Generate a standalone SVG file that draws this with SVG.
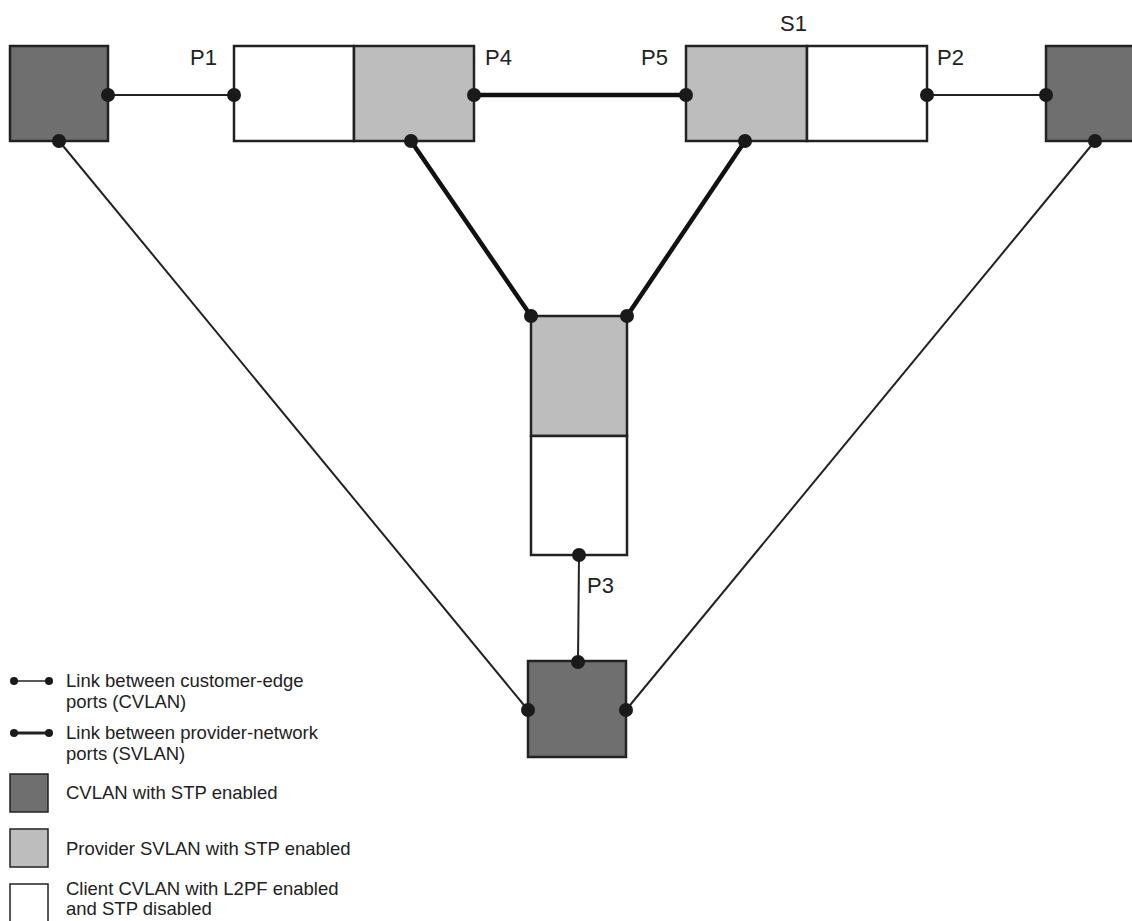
<svg xmlns="http://www.w3.org/2000/svg" width="1132" height="921" viewBox="0 0 1132 921">
<style>
.dark{fill:#6f6f6f;stroke:#222;stroke-width:2.5}
.light{fill:#bdbdbd;stroke:#222;stroke-width:2.5}
.white{fill:#fff;stroke:#222;stroke-width:2.5}
.thin{stroke:#222;stroke-width:2;fill:none}
.thick{stroke:#111;stroke-width:4.5;fill:none}
.dot{fill:#1a1a1a}
.lbl{font-family:"Liberation Sans",Arial,sans-serif;font-size:22px;fill:#222}
.leg{font-family:"Liberation Sans",Arial,sans-serif;font-size:18.5px;fill:#222}
</style>
<rect width="1132" height="921" fill="#fff"/>
<g id="connectors">
<line class="thin" x1="108" y1="95" x2="234" y2="95"/>
<line class="thick" x1="474" y1="95" x2="686" y2="95"/>
<line class="thin" x1="927" y1="95" x2="1046" y2="95"/>
<line class="thick" x1="411" y1="141" x2="531" y2="316"/>
<line class="thick" x1="745" y1="141" x2="627" y2="316"/>
<line class="thin" x1="59" y1="141" x2="528" y2="710"/>
<line class="thin" x1="1095" y1="141" x2="626" y2="710"/>
<line class="thin" x1="579" y1="555" x2="578" y2="662"/>
</g>
<g id="ce-left">
<rect class="dark" x="10" y="46" width="98" height="95"/>
<circle class="dot" cx="108" cy="95" r="7"/>
<circle class="dot" cx="59" cy="141" r="7"/>
</g>
<g id="ce-right">
<rect class="dark" x="1046" y="46" width="96" height="95"/>
<circle class="dot" cx="1046" cy="95" r="7"/>
<circle class="dot" cx="1095" cy="141" r="7"/>
</g>
<g id="switch-left">
<rect class="white" x="234" y="46" width="120" height="95"/>
<rect class="light" x="354" y="46" width="120" height="95"/>
<circle class="dot" cx="234" cy="95" r="7"/>
<circle class="dot" cx="474" cy="95" r="7"/>
<circle class="dot" cx="411" cy="141" r="7"/>
<text class="lbl" x="190" y="65">P1</text>
<text class="lbl" x="485" y="65">P4</text>
</g>
<g id="switch-s1">
<rect class="light" x="686" y="46" width="121" height="95"/>
<rect class="white" x="807" y="46" width="120" height="95"/>
<circle class="dot" cx="686" cy="95" r="7"/>
<circle class="dot" cx="927" cy="95" r="7"/>
<circle class="dot" cx="745" cy="141" r="7"/>
<text class="lbl" x="641" y="65">P5</text>
<text class="lbl" x="780" y="31">S1</text>
<text class="lbl" x="937" y="65">P2</text>
</g>
<g id="switch-center">
<rect class="light" x="531" y="316" width="96" height="120"/>
<rect class="white" x="531" y="436" width="96" height="119"/>
<circle class="dot" cx="531" cy="316" r="7"/>
<circle class="dot" cx="627" cy="316" r="7"/>
<circle class="dot" cx="579" cy="555" r="7"/>
<text class="lbl" x="587" y="593">P3</text>
</g>
<g id="ce-bottom">
<rect class="dark" x="528" y="661" width="98" height="96"/>
<circle class="dot" cx="578" cy="662" r="7"/>
<circle class="dot" cx="528" cy="710" r="7"/>
<circle class="dot" cx="626" cy="710" r="7"/>
</g>
<g id="legend">
<line class="thin" x1="14" y1="681" x2="49" y2="681" style="stroke-width:1.5"/>
<circle class="dot" cx="14" cy="681" r="4"/>
<circle class="dot" cx="49" cy="681" r="4"/>
<text class="leg" x="66" y="687">Link between customer-edge</text>
<text class="leg" x="66" y="708">ports (CVLAN)</text>
<line class="thin" x1="14" y1="733" x2="49" y2="733" style="stroke-width:3"/>
<circle class="dot" cx="14" cy="733" r="4"/>
<circle class="dot" cx="49" cy="733" r="4"/>
<text class="leg" x="66" y="739">Link between provider-network</text>
<text class="leg" x="66" y="760">ports (SVLAN)</text>
<rect class="dark" x="10" y="774" width="38" height="38" style="stroke-width:1.5"/>
<text class="leg" x="66" y="799">CVLAN with STP enabled</text>
<rect class="light" x="10" y="829" width="38" height="38" style="stroke-width:1.5"/>
<text class="leg" x="66" y="855">Provider SVLAN with STP enabled</text>
<rect class="white" x="10" y="884" width="38" height="40" style="stroke-width:1.5"/>
<text class="leg" x="66" y="895">Client CVLAN with L2PF enabled</text>
<text class="leg" x="66" y="915">and STP disabled</text>
</g>
</svg>
